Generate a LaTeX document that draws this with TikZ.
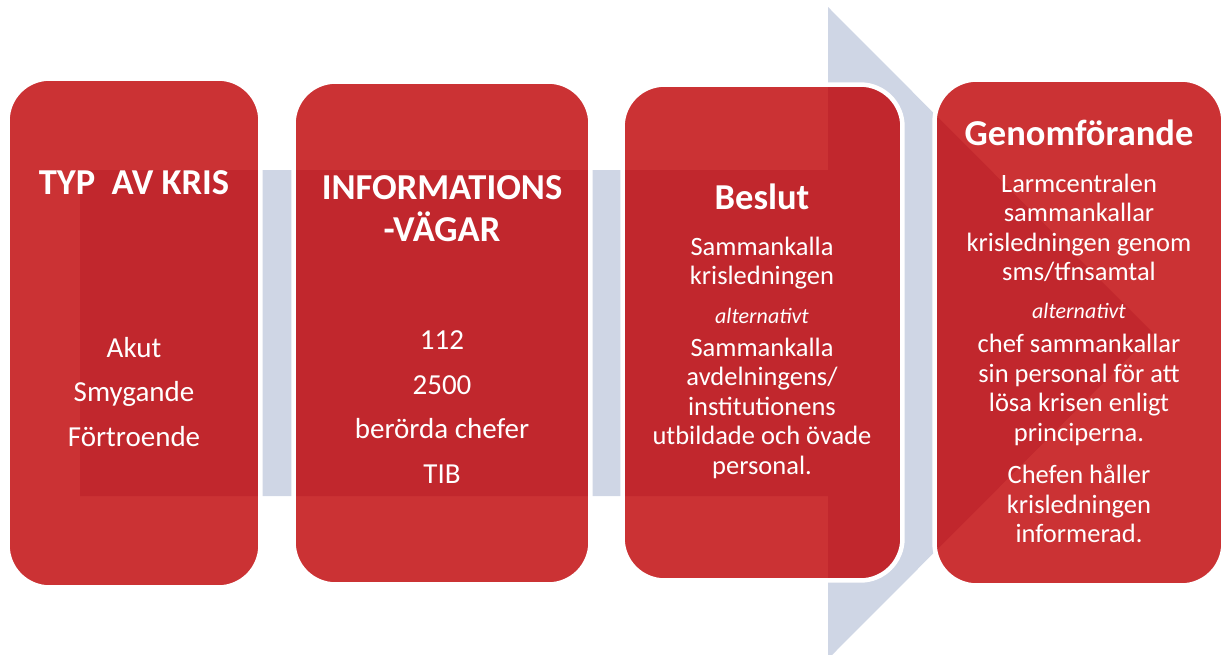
\documentclass[tikz,border=0pt]{standalone}
\usepackage{fontspec}
\setmainfont{Carlito}
\definecolor{redA}{RGB}{203,50,52}
\definecolor{redB}{RGB}{193,39,45}
\definecolor{armblue}{RGB}{207,214,229}
\tikzset{
  boxshape/.style={rectangle, rounded corners=42, inner sep=0pt, fill=redA},
  rim/.style={draw=white, line width=4.5pt, rounded corners=42},
  head/.style={text=white, inner sep=0pt, align=center, font=\fontsize{36.5}{42}\bfseries\selectfont},
  bigtxt/.style={text=white, inner sep=0pt, align=center, font=\fontsize{29}{44.5}\selectfont},
  smalltxt/.style={text=white, inner sep=0pt, align=center, font=\fontsize{26.5}{29.5}\selectfont},
  alttxt/.style={text=white, inner sep=0pt, font=\fontsize{22}{26}\itshape\selectfont}
}
\def\arrowpath{(80,170) -- (828,170) -- (828,7) -- (1153,333) -- (828,659) -- (828,496) -- (80,496) -- cycle}
\begin{document}
\begin{tikzpicture}[x=1pt,y=-1pt]
\useasboundingbox (0,0) rectangle (1225,654);
% background arrow
\fill[armblue] \arrowpath;
% boxes
\node[boxshape, minimum width=252.5pt, minimum height=508.5pt] (b1) at (134,333) {};
\node[boxshape, minimum width=296.5pt, minimum height=502.5pt] (b2) at (442,333) {};
\node[boxshape, minimum width=279.5pt, minimum height=495.5pt] (b3) at (762.5,332.5) {};
\node[boxshape, minimum width=288.5pt, minimum height=505.5pt] (b4) at (1079,332.5) {};
\foreach \b in {b1,b2,b3,b4}{
  \begin{scope}
    \clip[rounded corners=42] (\b.north west) rectangle (\b.south east);
    \fill[redB] \arrowpath;
  \end{scope}
  \draw[rim] (\b.north west) rectangle (\b.south east);
}
% box 1
\node[head] (t1) at (134,183) {TYP\hspace{0.45em}AV KRIS};
\node[bigtxt] (p1) at (134,392) {Akut\\Smygande\\Förtroende};
% box 2
\node[head] (t2) at (442,209) {INFORMATIONS\\-VÄGAR};
\node[bigtxt] (p2) at (442,407) {112\\2500\\berörda chefer\\TIB};
% box 3
\node[head] (t3) at (762,197) {Beslut};
\node[smalltxt] (p3a) at (762,263) {Sammankalla\\krisledningen};
\node[alttxt] (a3) at (762,316) {alternativt};
\node[smalltxt] (p3b) at (762,408) {Sammankalla\\avdelningens/\\institutionens\\utbildade och övade\\personal.};
% box 4
\node[head] (t4) at (1079,133) {Genomförande};
\node[smalltxt] (p4a) at (1079,228) {Larmcentralen\\sammankallar\\krisledningen genom\\sms/tfnsamtal};
\node[alttxt] (a4) at (1079,311) {alternativt};
\node[smalltxt] (p4b) at (1079,390) {chef sammankallar\\sin personal för att\\lösa krisen enligt\\principerna.};
\node[smalltxt] (p4c) at (1079,504) {Chefen håller\\krisledningen\\informerad.};
\end{tikzpicture}
\end{document}
